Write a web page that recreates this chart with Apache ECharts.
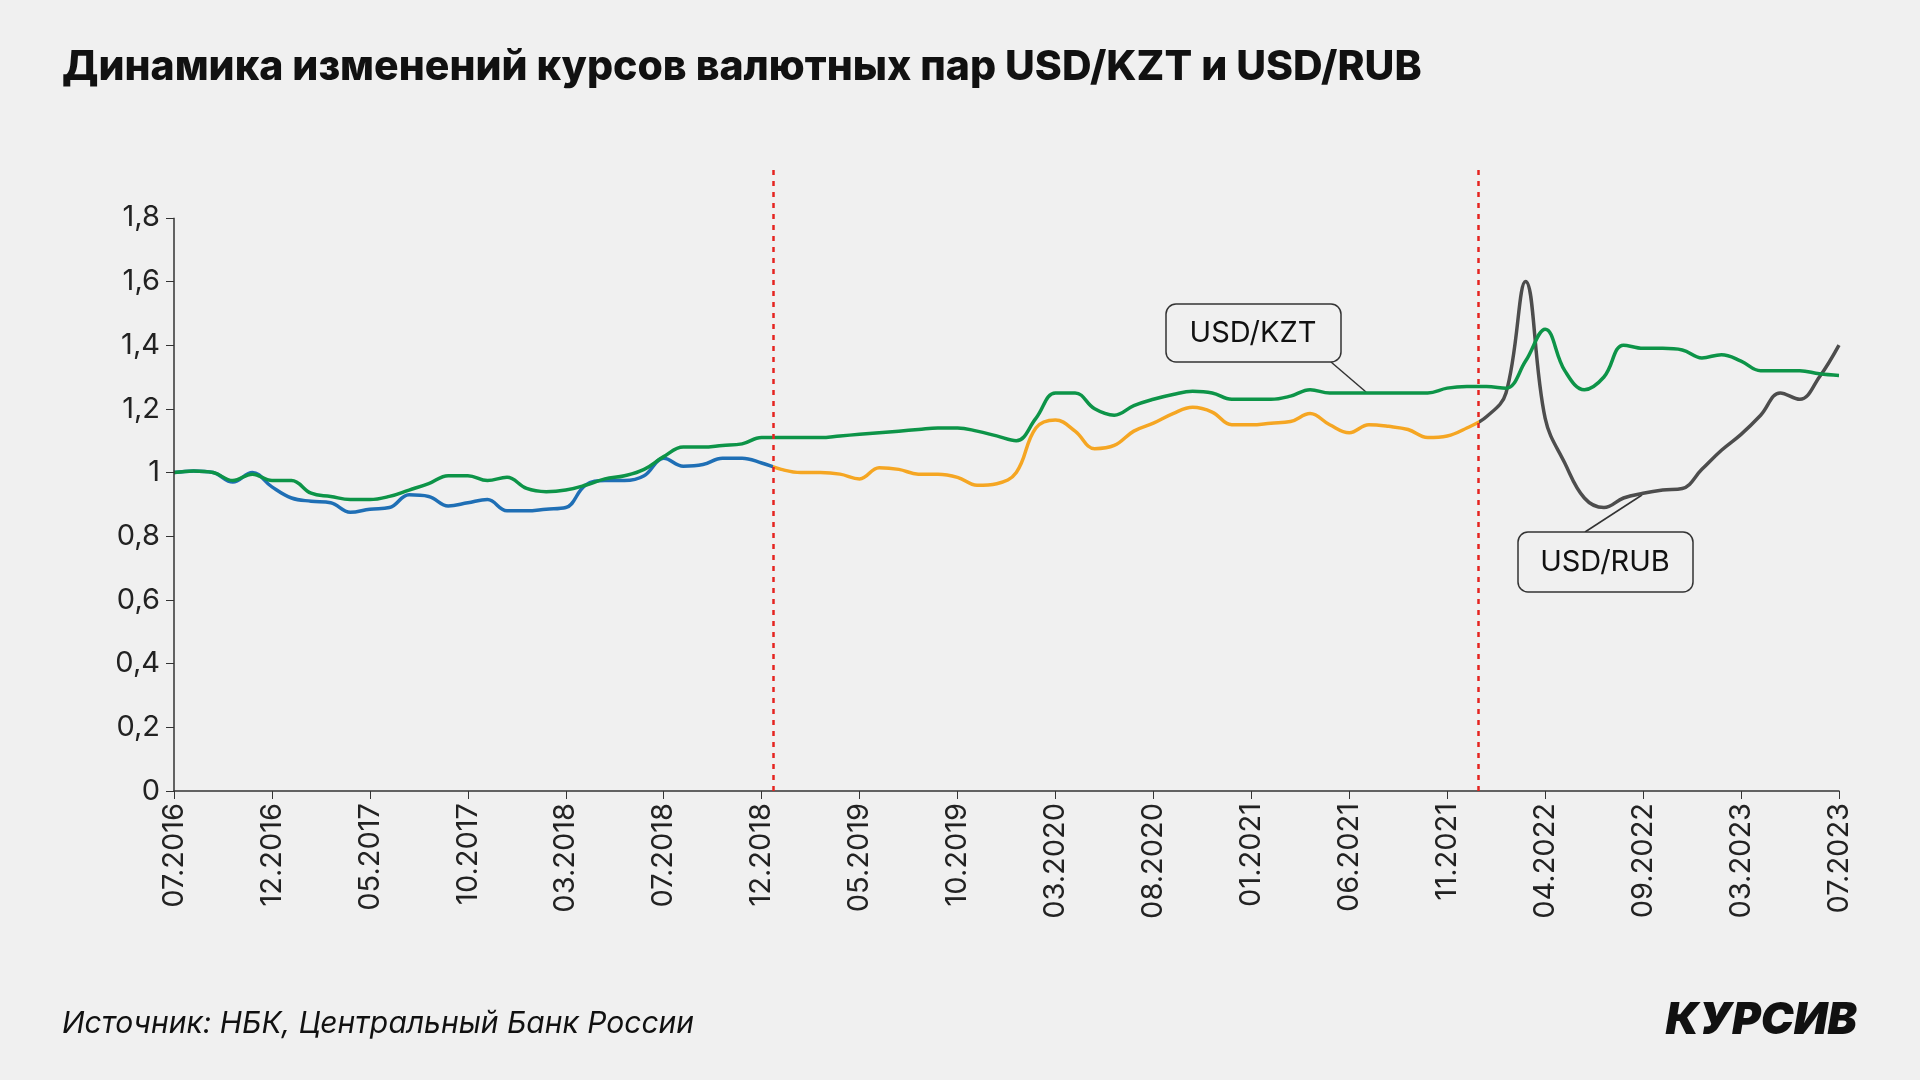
<!DOCTYPE html>
<html><head><meta charset="utf-8">
<script src="https://cdn.jsdelivr.net/npm/echarts@6/dist/echarts.min.js"></script>
<style>html,body{margin:0;background:#f0f0f0}#c{width:1920px;height:1080px}</style>
</head><body><div id="c"></div>
<script>
const tickLabels = ["07.2016","12.2016","05.2017","10.2017","03.2018","07.2018","12.2018","05.2019","10.2019","03.2020","08.2020","01.2021","06.2021","11.2021","04.2022","09.2022","03.2023","07.2023"];
const yTicks = [0,0.2,0.4,0.6,0.8,1,1.2,1.4,1.6,1.8];
const kzt = [1.0,1.005,1.0,0.975,0.995,0.975,0.975,0.935,0.925,0.915,0.915,0.925,0.945,0.965,0.99,0.99,0.975,0.985,0.95,0.94,
0.945,0.96,0.98,0.99,1.01,1.05,1.08,1.08,1.085,1.09,1.11,1.11,1.11,1.11,1.115,1.12,1.125,1.13,1.135,1.14,
1.14,1.13,1.115,1.10,1.17,1.25,1.25,1.2,1.18,1.21,1.23,1.245,1.255,1.25,1.23,1.23,1.23,1.24,1.26,1.25,
1.25,1.25,1.25,1.25,1.25,1.265,1.27,1.27,1.265,1.35,1.45,1.32,1.26,1.3,1.4,1.39,1.39,1.385,1.36,1.37,
1.35,1.32,1.32,1.32,1.31,1.305];
const rub = [1.0,1.005,1.0,0.97,1.0,0.955,0.92,0.91,0.905,0.875,0.885,0.89,0.93,0.925,0.895,0.905,0.915,0.88,0.88,0.885,
0.89,0.96,0.975,0.975,0.99,1.045,1.02,1.025,1.045,1.045,1.03,1.01,1.0,1.0,0.995,0.98,1.015,1.01,0.995,0.995,
0.985,0.96,0.965,1.0,1.14,1.165,1.13,1.075,1.085,1.13,1.155,1.185,1.205,1.19,1.15,1.15,1.155,1.16,1.185,1.15,
1.125,1.15,1.145,1.135,1.11,1.115,1.14,1.175,1.25,1.6,1.17,1.03,0.92,0.89,0.92,0.935,0.945,0.95,1.01,1.07,
1.12,1.18,1.25,1.23,1.3,1.4];
const periodBreaks = [30.6, 66.6];
const chart = echarts.init(document.getElementById('c'));
const F = 'Inter, "Noto Sans", sans-serif';
chart.setOption({
  backgroundColor:'#f0f0f0',
  animation:false,
  title:[{text:'Динамика изменений курсов валютных пар USD/KZT и USD/RUB',left:57,top:42,
    textStyle:{fontFamily:F,fontSize:41,fontWeight:800,color:'#111'}},
    {text:'Источник: НБК, Центральный Банк России',left:57,top:1004,
    textStyle:{fontFamily:F,fontSize:30,fontStyle:'italic',fontWeight:400,color:'#111'}},
    {text:'КУРСИВ',right:58,top:994,textStyle:{fontFamily:F,fontSize:44,fontStyle:'italic',fontWeight:900,color:'#111'}}],
  grid:{left:174,right:81,top:170,bottom:289},
  xAxis:{type:'value',min:0,max:85,interval:5,
    axisLine:{lineStyle:{color:'#333',width:1.5}},axisTick:{show:true,length:8,lineStyle:{color:'#333'}},
    splitLine:{show:false},
    axisLabel:{rotate:90,fontFamily:F,fontSize:29,color:'#222',margin:12,
      formatter:v=>tickLabels[Math.round(v/5)]||''}},
  yAxis:{type:'value',min:0,max:1.95,
    axisLine:{show:false},
    axisTick:{show:true,length:8,lineStyle:{color:'#333'},customValues:yTicks},
    splitLine:{show:false},
    axisLabel:{fontFamily:F,fontSize:29,color:'#222',margin:14,customValues:yTicks,
      formatter:v=>(Math.round(v*10)/10).toString().replace('.',',')}},
  visualMap:{show:false,seriesIndex:1,dimension:0,pieces:[
    {lt:periodBreaks[0],color:'#1f6fb5'},
    {gte:periodBreaks[0],lt:periodBreaks[1],color:'#f5a623'},
    {gte:periodBreaks[1],color:'#4d4d4d'}]},
  series:[
    {type:'line',name:'USD/KZT',data:kzt.map((v,i)=>[i,v]),smooth:0.4,symbol:'none',
      lineStyle:{color:'#0d9448',width:3.5},z:3,
      markLine:{symbol:'none',silent:true,label:{show:false},animation:false,
        data:[
          ...periodBreaks.map(b=>[{coord:[b,0],lineStyle:{color:'#e52420',type:[5,6],width:2.5}},{coord:[b,1.95]}]),
          [{coord:[0,0],lineStyle:{color:'#333',type:'solid',width:1.5}},{coord:[0,1.8]}]
        ]}},
    {type:'line',name:'USD/RUB',data:rub.map((v,i)=>[i,v]),smooth:0.4,symbol:'none',
      lineStyle:{width:3.5},z:2}
  ],
  graphic:[
    {type:'line',shape:{x1:1331,y1:362,x2:1366,y2:392},style:{stroke:'#333',lineWidth:1.5}},
    {type:'rect',shape:{x:1166,y:304,width:175,height:58,r:10},style:{fill:'#f0f0f0',stroke:'#333',lineWidth:1.5}},
    {type:'text',x:1253,y:333,style:{text:'USD/KZT',font:'29px '+F,fill:'#111',textAlign:'center',textVerticalAlign:'middle'}},
    {type:'line',shape:{x1:1585,y1:532,x2:1642,y2:495},style:{stroke:'#333',lineWidth:1.5}},
    {type:'rect',shape:{x:1518,y:532,width:175,height:60,r:10},style:{fill:'#f0f0f0',stroke:'#333',lineWidth:1.5}},
    {type:'text',x:1605,y:562,style:{text:'USD/RUB',font:'29px '+F,fill:'#111',textAlign:'center',textVerticalAlign:'middle'}}
  ]
});
</script></body></html>
